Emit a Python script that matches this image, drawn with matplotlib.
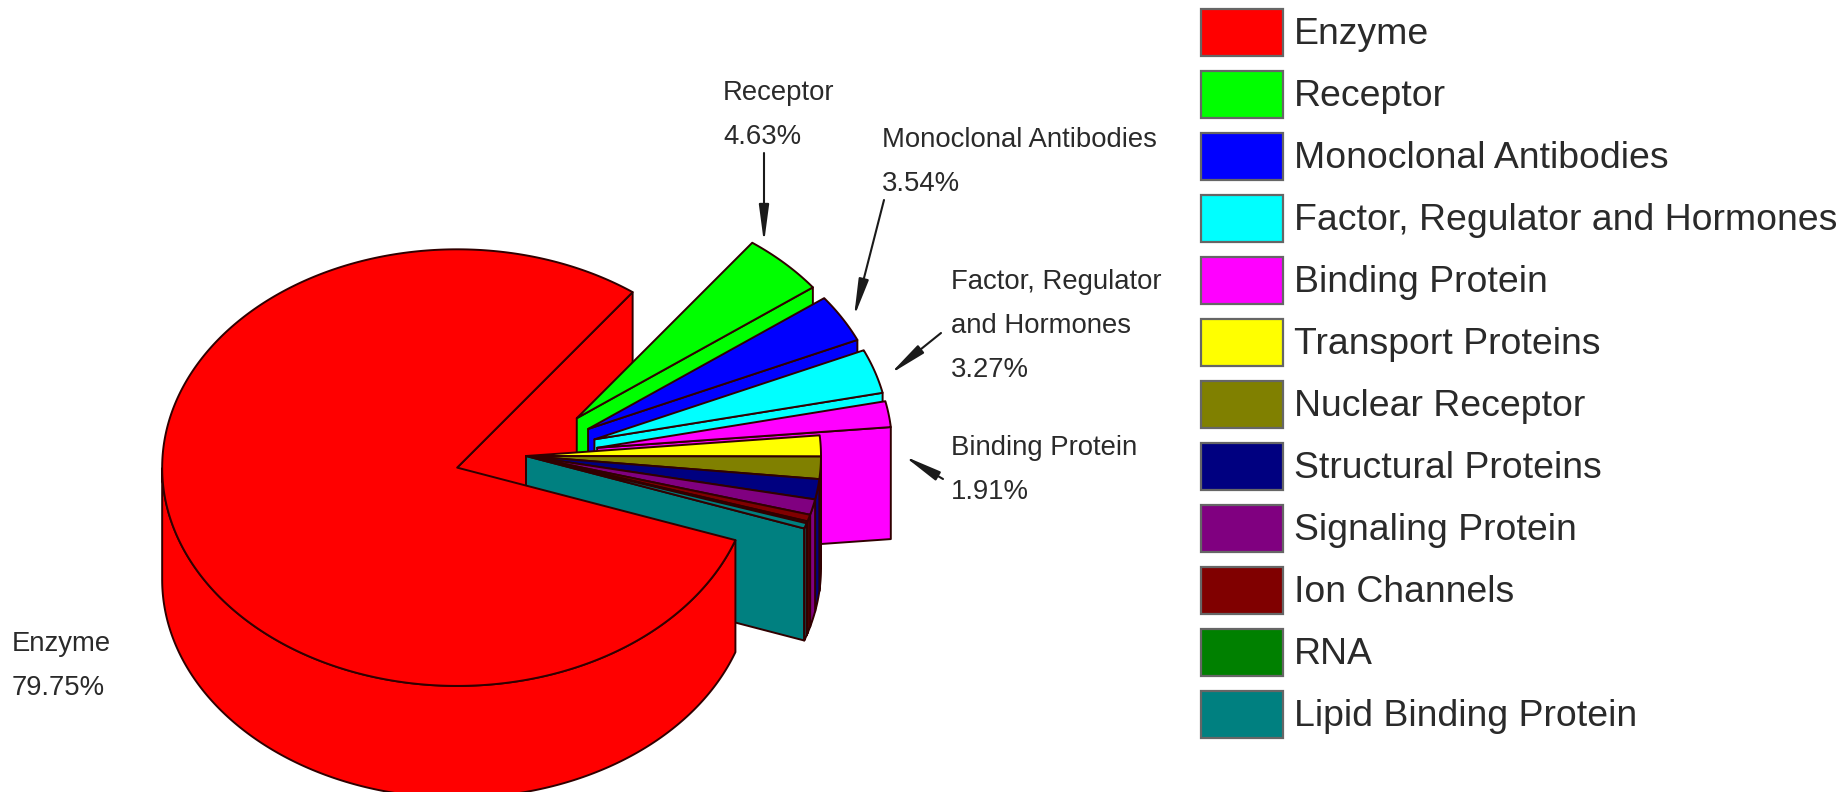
import numpy as np
import matplotlib
matplotlib.use("Agg")
import matplotlib.pyplot as plt
from matplotlib.patches import Polygon, Rectangle

plt.rcParams["font.family"] = ["Liberation Sans", "DejaVu Sans"]

categories = ["Enzyme", "Receptor", "Monoclonal Antibodies", "Factor, Regulator and Hormones",
              "Binding Protein", "Transport Proteins", "Nuclear Receptor", "Structural Proteins",
              "Signaling Protein", "Ion Channels", "RNA", "Lipid Binding Protein"]
values = [79.75, 4.63, 3.54, 3.27, 1.91, 1.55, 1.65, 1.5, 1.15, 0.5, 0.15, 0.4]
colors = ["#ff0000", "#00ff00", "#0000ff", "#00ffff", "#ff00ff", "#ffff00",
          "#808000", "#000080", "#800080", "#800000", "#008000", "#008080"]
explode = [1, 1, 1, 1, 1, 0, 0, 0, 0, 0, 0, 0]

labels = ["Enzyme\n79.75%", "Receptor\n4.63%", "Monoclonal Antibodies\n3.54%",
          "Factor, Regulator\nand Hormones\n3.27%", "Binding Protein\n1.91%"]
label_pos = [(12, 666), (723, 115), (882, 162), (951, 326), (951, 470)]
arrow_from = [None, (764, 153), (884, 200), (941, 333), (943, 479)]
arrow_to = [None, (764, 243), (854, 317), (890, 374), (904, 456)]

# pie geometry, in pixels of the figure
cx, cy = 526, 456
enzyme_cy = 452
rx, squash = 295, 0.74
depth = 112
explode_dist = 72
start_angle = 53.5

fig = plt.figure(figsize=(18.44, 7.92), dpi=100)
ax = fig.add_axes([0, 0, 1, 1])
ax.set_xlim(0, 1844)
ax.set_ylim(792, 0)
ax.axis("off")

edge = dict(edgecolor="#300000", linewidth=1.4, joinstyle="round")


def point(x0, y0, ang):
    rad = np.radians(ang)
    return x0 + rx * np.cos(rad), y0 - rx * squash * np.sin(rad)


def centre(th_lo, th_hi, offset, y_base):
    mid = np.radians((th_lo + th_hi) / 2)
    return (cx + offset * explode_dist * np.cos(mid),
            y_base - offset * explode_dist * squash * np.sin(mid))


def draw_cut_face(x0, y0, th_lo, color, z):
    px, py = point(x0, y0, th_lo)
    ax.add_patch(Polygon([(x0, y0), (px, py), (px, py + depth), (x0, y0 + depth)],
                         facecolor=color, zorder=z, **edge))


def draw_body(x0, y0, th_lo, th_hi, color, z):
    angs = np.linspace(th_lo, th_hi, 400)
    # outer wall, only where it faces the viewer
    front = angs[np.sin(np.radians(angs)) < 0]
    if len(front) > 1:
        top = np.array([point(x0, y0, a) for a in front])
        bottom = top[::-1] + [0, depth]
        ax.add_patch(Polygon(np.vstack([top, bottom]), facecolor=color, zorder=z, **edge))
    # top surface
    arc = np.array([point(x0, y0, a) for a in angs])
    ax.add_patch(Polygon(np.vstack([[(x0, y0)], arc]), facecolor=color, zorder=z + 0.5, **edge))


spans = np.array(values) / 100 * 360

# enzyme cut face sits behind the small slices, the rest of it in front
ex, ey = centre(start_angle, start_angle + spans[0], explode[0], enzyme_cy)
draw_cut_face(ex, ey, start_angle, colors[0], 1)

th = start_angle
z = 2
for i in range(1, len(values)):
    x0, y0 = centre(th - spans[i], th, explode[i], cy)
    draw_cut_face(x0, y0, th - spans[i], colors[i], z)
    draw_body(x0, y0, th - spans[i], th, colors[i], z)
    th -= spans[i]
    z += 1
draw_body(ex, ey, start_angle, start_angle + spans[0], colors[0], z)

for text, pos in zip(labels, label_pos):
    ax.text(pos[0], pos[1], text, fontsize=19.8, color="#2a2a2a", ha="left", va="center",
            linespacing=1.89, zorder=40)

for a, b in zip(arrow_from, arrow_to):
    if a is None:
        continue
    ax.annotate("", xy=b, xytext=a, zorder=41,
                arrowprops=dict(arrowstyle="-|>,head_length=1.5,head_width=0.2", color="#1a1a1a",
                                lw=1.5, shrinkA=0, shrinkB=0, mutation_scale=15))

# legend
for i, name in enumerate(categories):
    y = 9 + i * 62
    ax.add_patch(Rectangle((1201, y), 82, 47, facecolor=colors[i], edgecolor="#666666",
                           linewidth=1.6, zorder=5))
    ax.text(1294, y + 26, name, fontsize=26.9, color="#2a2a2a", ha="left", va="center", zorder=6)

fig.savefig("out.png", dpi=100)
